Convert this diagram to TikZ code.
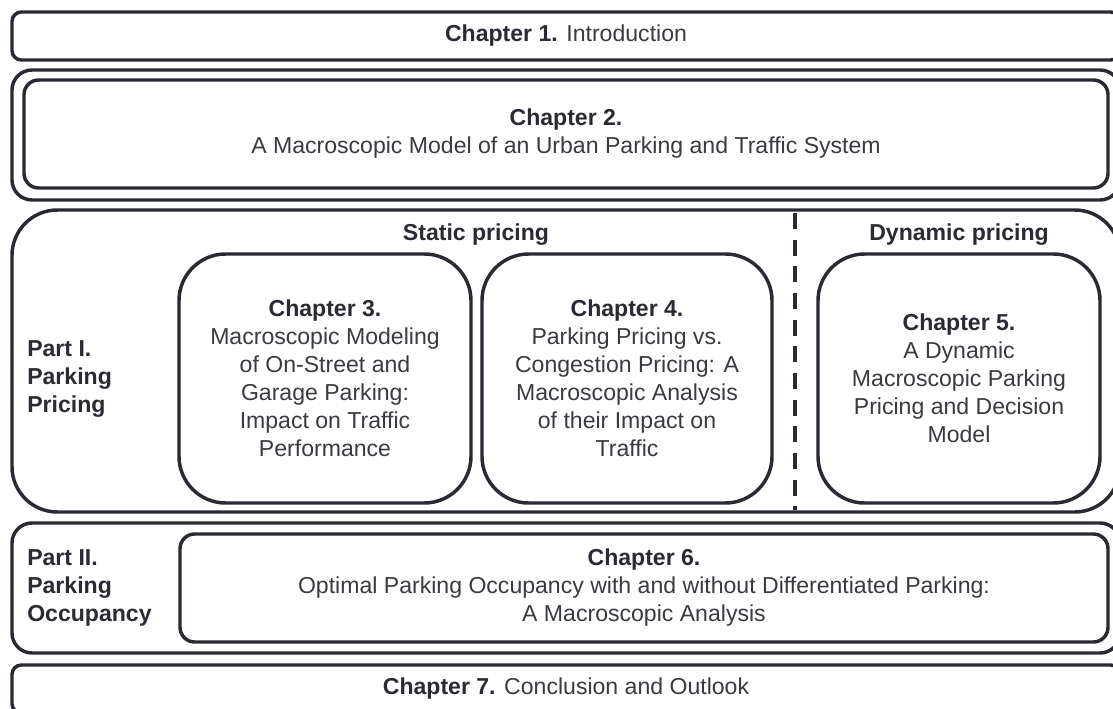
\documentclass[tikz,border=0pt]{standalone}
\usepackage{fontspec}
\setmainfont{Liberation Sans}
\definecolor{ink}{RGB}{42,42,51}
\definecolor{txt}{RGB}{58,58,64}
\begin{document}
\begin{tikzpicture}[x=0.75pt,y=-0.75pt,
    box/.style={draw=ink,line width=2.6pt,rounded corners=#1,inner sep=0pt,align=center,text=txt,
      font=\fontsize{17.3}{21}\selectfont},
    box/.default=7pt,
    label/.style={inner sep=0pt,text=ink,font=\fontsize{17.3}{21}\selectfont\bfseries}]
  \useasboundingbox (0,0) rectangle (1113,709);
  \clip (0,0) rectangle (1113,709);
  \node[box, minimum width=831pt, minimum height=36pt] (ch1) at (566,36)
    {\textbf{\color{ink}Chapter 1.} Introduction};
  \node[box=15pt, minimum width=831pt, minimum height=97.5pt] (outer2) at (566,135) {};
  \node[box=11pt, minimum width=813pt, minimum height=81pt] (ch2) at (566,134)
    {\textbf{\color{ink}Chapter 2.}\\A Macroscopic Model of an Urban Parking and Traffic System};
  \node[box=34pt, minimum width=831pt, minimum height=226.5pt] (part1) at (566,361) {};
  \node[label] (static) at (476,235) {Static pricing};
  \node[label] (dynamic) at (959,235) {Dynamic pricing};
  \node[box=35pt, minimum width=219pt, minimum height=186.75pt] (ch3) at (325,378.5)
    {\textbf{\color{ink}Chapter 3.}\\Macroscopic Modeling\\of On-Street and\\Garage Parking:\\Impact on Traffic\\Performance};
  \node[box=35pt, minimum width=217.5pt, minimum height=186.75pt] (ch4) at (627,378.5)
    {\textbf{\color{ink}Chapter 4.}\\Parking Pricing vs.\\Congestion Pricing: A\\Macroscopic Analysis\\of their Impact on\\Traffic};
  \node[box=35pt, minimum width=211.5pt, minimum height=186.75pt] (ch5) at (959,378.5)
    {\textbf{\color{ink}Chapter 5.}\\A Dynamic\\Macroscopic Parking\\Pricing and Decision\\Model};
  \node[label, anchor=west, align=left] (part1lab) at (27,379) {Part I.\\Parking\\Pricing};
  \coordinate (sep top) at (795,213);
  \coordinate (sep bot) at (795,510);
  \draw[ink, line width=2.6pt, dash pattern=on 12pt off 8pt] (sep top) -- (sep bot);
  \node[box=15pt, minimum width=831pt, minimum height=97.5pt] (outer6) at (566,588) {};
  \node[box=11pt, minimum width=696pt, minimum height=81pt] (ch6) at (644,588)
    {\textbf{\color{ink}Chapter 6.}\\Optimal Parking Occupancy with and without Differentiated Parking:\\A Macroscopic Analysis};
  \node[label, anchor=west, align=left] (part2lab) at (27,588) {Part II.\\Parking\\Occupancy};
  \node[box, minimum width=831pt, minimum height=36pt] (ch7) at (566,689)
    {\textbf{\color{ink}Chapter 7.} Conclusion and Outlook};
\end{tikzpicture}
\end{document}
